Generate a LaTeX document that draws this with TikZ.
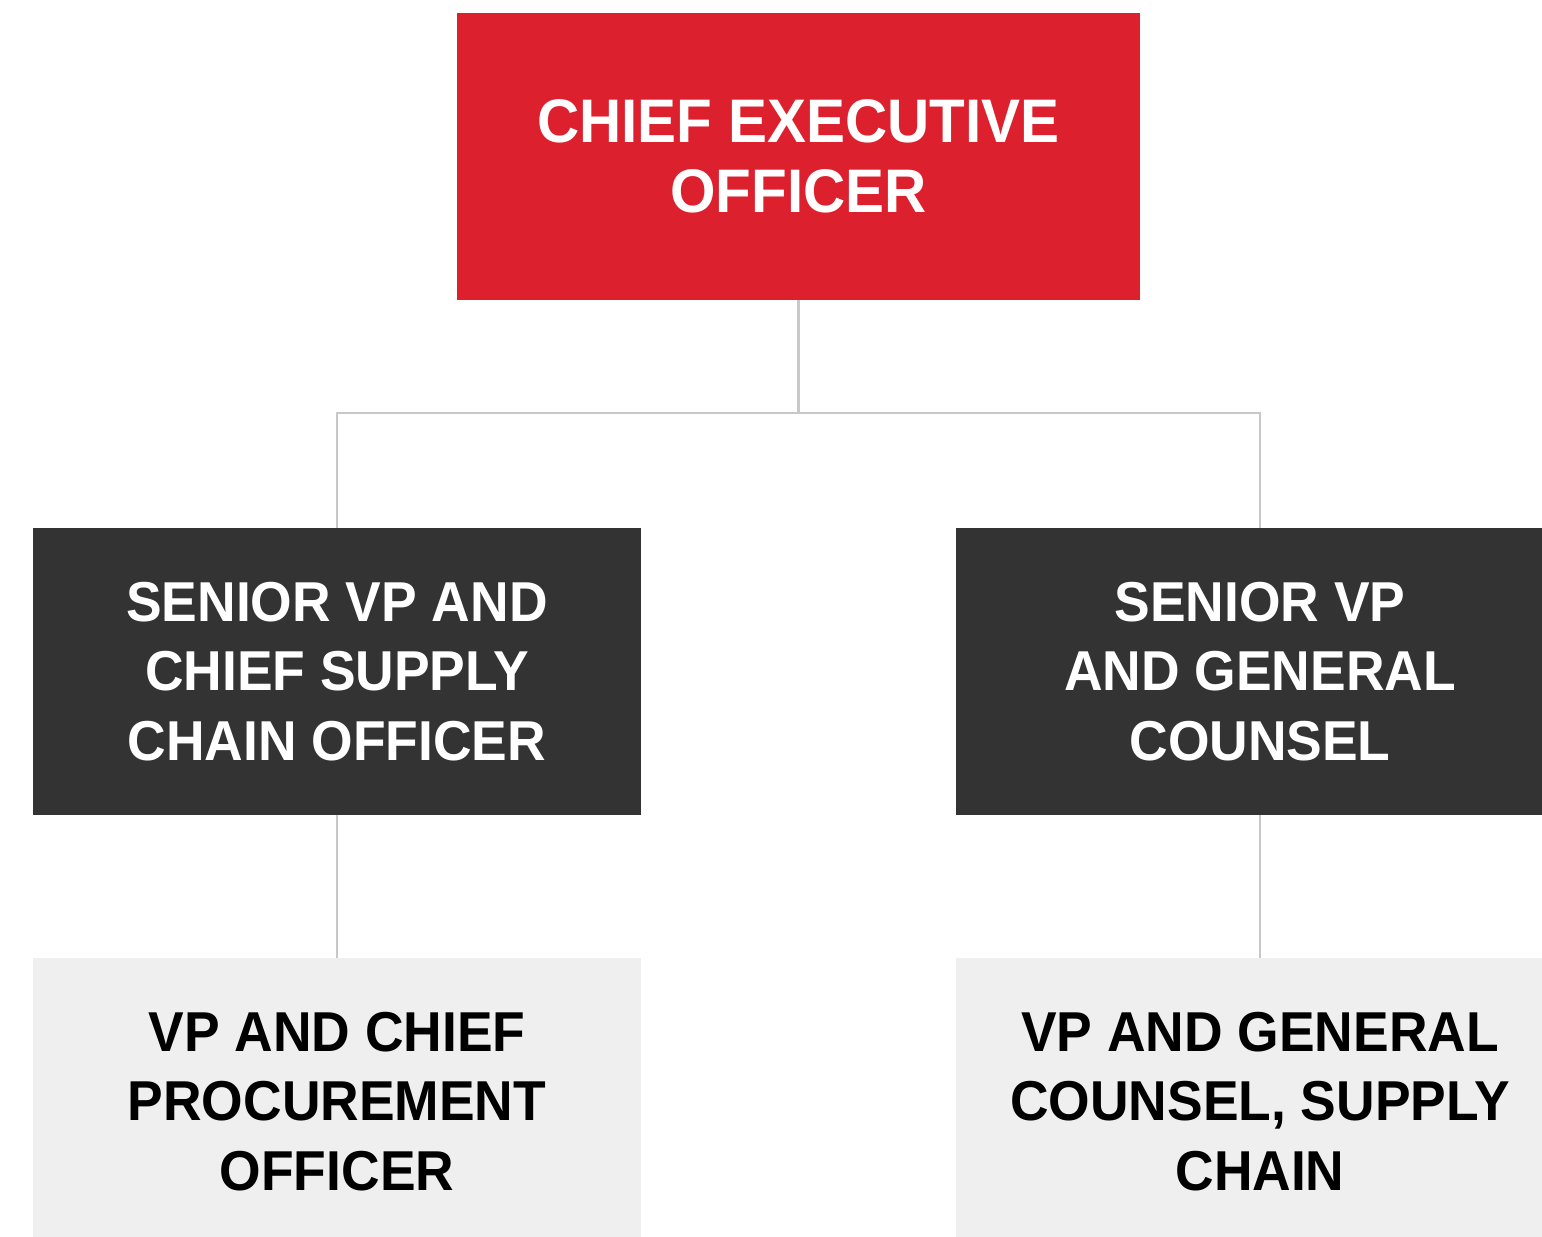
\documentclass[tikz,border=0pt]{standalone}
\usepackage{fontspec}
\setmainfont{Liberation Sans}[FakeStretch=0.95]
\usetikzlibrary{positioning}
\definecolor{ceored}{HTML}{DC202E}
\definecolor{darkbox}{HTML}{333333}
\definecolor{lightbox}{HTML}{EFEFEF}
\definecolor{linegray}{HTML}{C8C8C8}

\begin{document}
\begin{tikzpicture}[x=0.02cm,y=-0.02cm,
    role/.style={rectangle,align=center,inner sep=0pt,minimum width=12.16cm,minimum height=5.74cm,font=\bfseries\fontsize{32}{39.5}\selectfont},
    top role/.style={role,fill=ceored,text=white,minimum width=13.66cm,font=\bfseries\fontsize{35}{39.5}\selectfont},
    senior role/.style={role,fill=darkbox,text=white},
    vp role/.style={role,fill=lightbox,text=black},
    link/.style={draw=linegray,line width=1.2pt}]
    \useasboundingbox (0,0) rectangle (1542,1237);
    \clip (0,0) rectangle (1542,1237);

    \node[top role] (ceo) at (798.5,156.5) {CHIEF EXECUTIVE\\OFFICER};
    \node[senior role] (scso) at (337,671.5) {SENIOR VP AND\\CHIEF SUPPLY\\CHAIN OFFICER};
    \node[senior role] (sgc) at (1260,671.5) {SENIOR VP\\AND GENERAL\\COUNSEL};
    \node[vp role] (cpo) at (337,1101.5) {VP AND CHIEF\\PROCUREMENT\\OFFICER};
    \node[vp role] (gcsc) at (1260,1101.5) {VP AND GENERAL\\COUNSEL, SUPPLY\\CHAIN};

    \coordinate (split) at (ceo.south |- 0,413);

    \path[link]
        (ceo) -- (split)
        (scso.north) |- (split) -| (sgc.north)
        (scso) -- (cpo)
        (sgc) -- (gcsc);
\end{tikzpicture}
\end{document}
